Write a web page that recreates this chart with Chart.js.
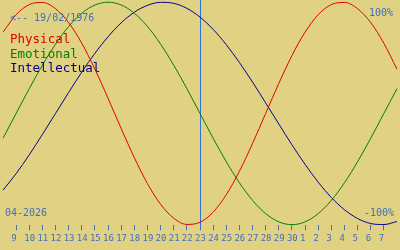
<!DOCTYPE html>
<html>
<head>
<meta charset="utf-8">
<script src="https://cdn.jsdelivr.net/npm/chart.js@4.4.1/dist/chart.umd.min.js"></script>
<style>
    html, body { margin: 0; padding: 0; background: #e0d282; }
    canvas { display: block; }
</style>
</head>
<body>
<canvas id="bioChart" width="400" height="250"></canvas>
<script>
// =========================================
// 1. DADOS (dias de 08/04 a 08/05, valores em %)
// =========================================
const dias = ['8', '9', '10', '11', '12', '13', '14', '15', '16', '17', '18', '19', '20', '21', '22',
              '23', '24', '25', '26', '27', '28', '29', '30', '1', '2', '3', '4', '5', '6', '7', '8'];

const fisico = [73.1, 88.8, 97.9, 99.8, 94.2, 81.7, 63.1, 39.8, 13.6, -13.6, -39.8, -63.1, -81.7, -94.2, -99.8,
                -97.9, -88.8, -73.1, -52.0, -27.0, 0, 27.0, 52.0, 73.1, 88.8, 97.9, 99.8, 94.2, 81.7, 63.1, 39.8];

const emocional = [-22.3, 0, 22.3, 43.4, 62.3, 78.2, 90.1, 97.5, 100, 97.5, 90.1, 78.2, 62.3, 43.4, 22.3,
                   0, -22.3, -43.4, -62.3, -78.2, -90.1, -97.5, -100, -97.5, -90.1, -78.2, -62.3, -43.4, -22.3, 0, 22.3];

const intelectual = [-69.0, -54.1, -37.2, -18.9, 0, 18.9, 37.2, 54.1, 69.0, 81.5, 91.0, 97.2, 99.9, 99.0, 94.5,
                     86.6, 75.6, 61.8, 45.8, 28.2, 9.5, -9.5, -28.2, -45.8, -61.8, -75.6, -86.6, -94.5, -99.0, -99.9, -97.2];

const HOJE = 15;               // índice do dia 23
const NASCIMENTO = '19/02/1976';
const MES = '04-2026';

const COR_TEXTO = '#3f6fc0';
const FONTE = '"DejaVu Sans Mono", monospace';

// =========================================
// 2. TEXTOS POR CIMA DO GRÁFICO
// =========================================
const textos = {
    id: 'textos',
    afterDraw(chart) {
        const c = chart.ctx;
        const area = chart.chartArea;
        c.save();
        c.font = '10px ' + FONTE;
        c.fillStyle = COR_TEXTO;
        c.textAlign = 'left';
        c.fillText('<-- ' + NASCIMENTO, 10, 21);
        c.fillText(MES, 5, area.bottom - 9);
        c.textAlign = 'right';
        c.fillText('100%', 393, 16);
        c.fillText('-100%', 394, area.bottom - 9);

        // legenda
        c.font = '12.5px ' + FONTE;
        c.textAlign = 'left';
        chart.data.datasets.forEach((ds, i) => {
            c.fillStyle = ds.borderColor;
            c.fillText(ds.label, 10, 43 + i * 14.6);
        });
        c.restore();
    }
};

// =========================================
// 3. GRÁFICO
// =========================================
const ctx = document.getElementById('bioChart').getContext('2d');
const ultimo = dias.length - 1;

const bioChart = new Chart(ctx, {
    type: 'line',
    data: {
        labels: dias,
        datasets: [
            { label: 'Physical', data: fisico, borderColor: '#e00000' },
            { label: 'Emotional', data: emocional, borderColor: '#008000' },
            { label: 'Intellectual', data: intelectual, borderColor: '#000090' }
        ]
    },
    options: {
        responsive: false,
        animation: false,
        layout: { padding: { left: 0, right: 0, top: 0, bottom: 3 } },
        elements: {
            point: { radius: 0 },
            line: { borderWidth: 1, cubicInterpolationMode: 'monotone' }
        },
        plugins: {
            legend: { display: false },
            tooltip: { enabled: false }
        },
        scales: {
            x: {
                offset: false,
                border: { display: false },
                grid: {
                    color: c => c.index === HOJE ? '#3070d0' : 'transparent',
                    tickColor: c => (c.index === 0 || c.index === ultimo) ? 'transparent' : COR_TEXTO,
                    tickLength: 5
                },
                ticks: {
                    autoSkip: false,
                    maxRotation: 0,
                    align: 'start',
                    labelOffset: -5,
                    padding: 3,
                    color: COR_TEXTO,
                    font: { family: FONTE, size: 9 },
                    callback: (v, i) => (i === 0 || i === ultimo) ? '' : dias[i]
                }
            },
            y: {
                min: -100.5,
                max: 102,
                border: { display: false },
                grid: {
                    drawTicks: false,
                    color: c => (c.tick && c.tick.value === 0) ? '#4e6e8e' : 'transparent'
                },
                ticks: { display: false, stepSize: 100 }
            }
        }
    },
    plugins: [textos]
});
</script>
</body>
</html>
